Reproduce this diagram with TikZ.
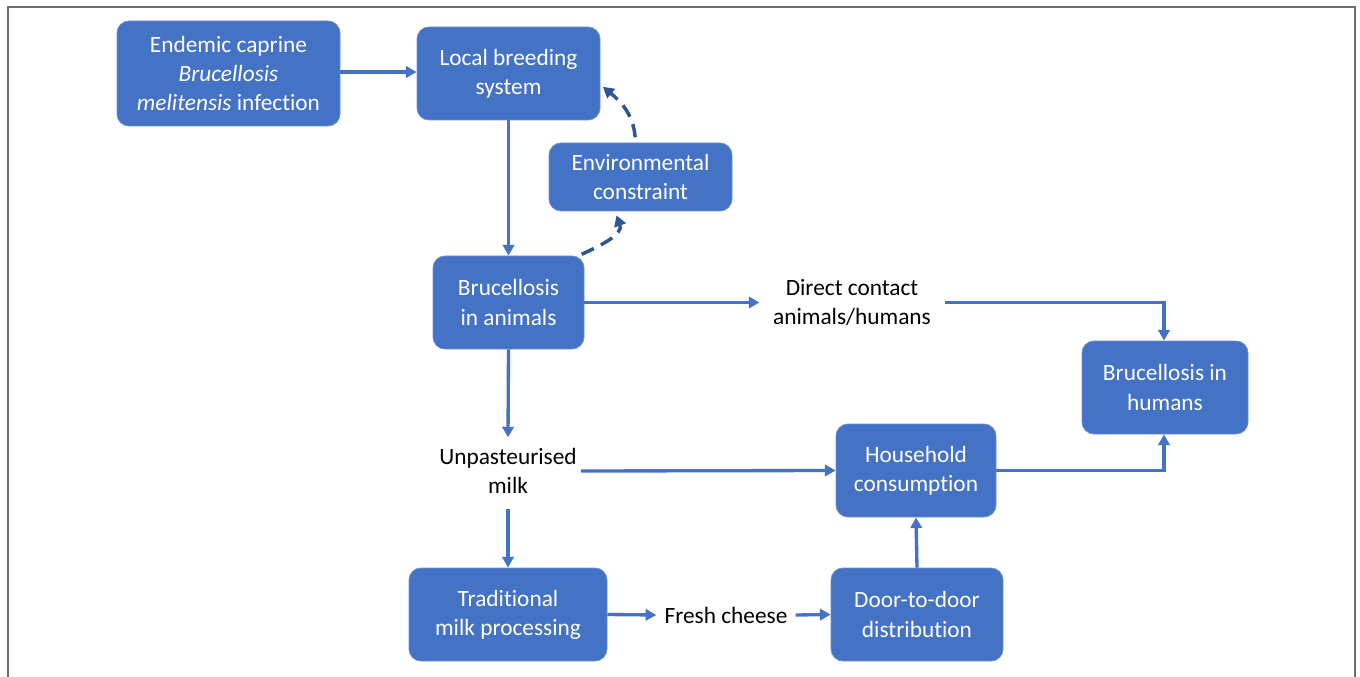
\documentclass[tikz,border=0pt]{standalone}
\usepackage{fontspec}
\setmainfont{Carlito}[Ligatures=NoCommon]
\usetikzlibrary{arrows.meta}
\definecolor{boxblue}{HTML}{4472C4}
\definecolor{darkblue}{HTML}{2F5597}
\definecolor{framegray}{HTML}{6E6E6E}
\tikzset{
  box/.style={rectangle, rounded corners=9pt, fill=boxblue, draw=boxblue!80!white, line width=0.6pt, text=white, align=center, font=\fontsize{17.5}{21.8}\selectfont, inner sep=0pt},
  lbl/.style={align=center, text=black, font=\fontsize{17.5}{21.8}\selectfont, inner sep=0pt},
  arr/.style={draw=boxblue, line width=2.5pt, -{Triangle[length=8pt,width=8.5pt]}},
  darr/.style={draw=darkblue, line width=2.6pt, dash pattern=on 10pt off 6pt, -{Triangle[length=8pt,width=9pt]}}
}
\begin{document}
\begin{tikzpicture}[x=0.75pt,y=-0.75pt]
\useasboundingbox (0,0) rectangle (1360,677);
\draw[framegray, line width=1.6pt] (8,677) -- (8,7) -- (1355,7) -- (1355,677);

\node[box, minimum width=167.25pt, minimum height=78.75pt] (endemic) at (228.5,73.5) {Endemic caprine\\\textit{Brucellosis}\\\textit{melitensis} infection};
\node[box, minimum width=137.25pt, minimum height=69.75pt] (local) at (508.5,73.5) {Local breeding\\system};
\node[box, minimum width=137.25pt, minimum height=51pt] (env) at (640.5,177) {Environmental\\constraint};
\node[box, minimum width=113.25pt, minimum height=69.75pt] (animals) at (508.5,302.5) {Brucellosis\\in animals};
\node[lbl] (direct) at (852,302.5) {Direct contact\\animals/humans};
\node[box, minimum width=124.5pt, minimum height=69.75pt] (humans) at (1165,387.5) {Brucellosis in\\humans};
\node[lbl] (milk) at (508,471) {Unpasteurised\\milk};
\node[box, minimum width=120pt, minimum height=69.75pt] (household) at (916,470.5) {Household\\consumption};
\node[box, minimum width=148.5pt, minimum height=69.75pt] (trad) at (508,614.5) {Traditional\\milk processing};
\node[lbl] (cheese) at (726,615) {Fresh cheese};
\node[box, minimum width=129pt, minimum height=69.75pt] (door) at (917,614.5) {Door-to-door\\distribution};

\coordinate (dc) at (1164,302.5);
\coordinate (hc) at (1164,470.5);

\draw[arr] (endemic.east |- 0,72) -- (local.west |- 0,72);
\draw[arr] (local.south) -- (animals.north);
\draw[arr] (animals.east) -- ([xshift=-10pt]direct.west);
\draw[arr] ([xshift=10pt]direct.east) -- (dc) -- (humans.north -| dc);
\draw[arr] (animals.south) -- ([yshift=8pt]milk.north);
\draw[arr] ([xshift=3pt]milk.east) -- (household.west);
\draw[arr] ([yshift=-11pt]milk.south) -- (trad.north);
\draw[arr] (trad.east) -- ([xshift=-6pt]cheese.west);
\draw[arr] ([xshift=6pt]cheese.east) -- (door.west);
\draw[arr] (door.north) -- (household.south);
\draw[arr] (household.east) -- (hc) -- (humans.south -| hc);

\draw[darr] ([xshift=-2pt,yshift=1pt]animals.north east) to[out=25,in=-70] ([xshift=-18pt,yshift=-3pt]env.south);
\draw[darr] ([xshift=-4pt,yshift=4pt]env.north) to[out=95,in=-40] ([yshift=-10pt,xshift=2pt]local.east);
\end{tikzpicture}
\end{document}
